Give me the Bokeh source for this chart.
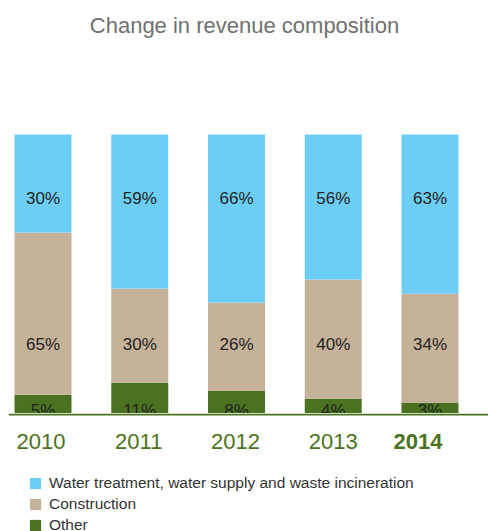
from bokeh.plotting import figure
from bokeh.models import Range1d, Label, Span, ColumnDataSource
from bokeh.layouts import column
from bokeh.core.properties import value
from bokeh.embed import file_html
from bokeh.resources import INLINE

# ---- data ----
years = ["2010", "2011", "2012", "2013", "2014"]
series = ["Other", "Construction", "Water treatment, water supply and waste incineration"]
# printed share labels (%)
other_lbl = [5, 11, 8, 4, 3]
constr_lbl = [65, 30, 26, 40, 34]
water_lbl = [30, 59, 66, 56, 63]
# segment heights as drawn in the picture (% of bar)
other_h = [6.7, 11.0, 8.1, 5.3, 3.8]
constr_h = [58.2, 33.8, 31.7, 42.7, 39.1]
water_h = [35.1, 55.2, 60.2, 52.0, 57.1]

colors = ["#4B7220", "#C4B299", "#6DCEF5"]
GREEN = "#4B7220"
FONT = "Liberation Sans"

xs = list(range(len(years)))
src = ColumnDataSource(dict(x=xs, Other=other_h, Construction=constr_h, Water=water_h))

xr = Range1d(-0.3566, 4.6047)

# ---- top figure: title + bars ----
pa = figure(width=488, height=413, output_backend="svg", toolbar_location=None,
            x_range=xr, y_range=Range1d(0, 148.03),
            x_axis_location=None, y_axis_location=None,
            min_border_left=8, min_border_right=0, min_border_top=0, min_border_bottom=0)
pa.grid.visible = False
pa.outline_line_color = None

rs = pa.vbar_stack(["Other", "Construction", "Water"], x="x", width=0.589,
                   color=colors, line_color=None, source=src)

lbl_font = "17px"
for vals, yy in ((water_lbl, 76.9), (constr_lbl, 24.6), (other_lbl, 1.2)):
    pa.text(x=xs, y=[yy] * len(xs), text=[f"{v}%" for v in vals],
            text_align="center", text_baseline="alphabetic", text_font=value(FONT),
            text_font_size=lbl_font, text_color="#222222")

pa.add_layout(Label(x=236, y=388, x_units="screen", y_units="screen",
                    text="Change in revenue composition", text_align="center",
                    text_baseline="alphabetic", text_font=FONT, text_font_size="22px",
                    text_color="#707070"))

# ---- bottom figure: baseline, years, legend ----
pb = figure(width=488, height=118, output_backend="svg", toolbar_location=None,
            x_range=xr, y_range=Range1d(118, 0),
            x_axis_location=None, y_axis_location=None,
            min_border_left=8, min_border_right=0, min_border_top=0, min_border_bottom=0)
pb.grid.visible = False
pb.outline_line_color = None

pb.add_layout(Span(location=1, dimension="width", line_color=GREEN, line_width=2))

offsets = [-2, -1, -1, 0, -12]
for i, yr in enumerate(years):
    pb.text(x=[xs[i]], y=[28], text=[yr], x_offset=offsets[i],
            text_align="center", text_baseline="alphabetic", text_font=value(FONT),
            text_font_size="22px", text_color=GREEN,
            text_font_style="bold" if i == len(years) - 1 else "normal")

# legend proxies (zero-height bars, only their legend swatches show)
for k in (2, 1, 0):
    pb.vbar(x=[0], top=[0], bottom=[0], width=0.01, color=colors[k], line_color=None,
            legend_label=series[k])

leg = pb.legend[0]
leg.location = (20, -4)
leg.orientation = "vertical"
leg.glyph_width = 14
leg.glyph_height = 14
leg.label_height = 21
leg.spacing = 0
leg.label_standoff = 7
leg.padding = 0
leg.margin = 0
leg.border_line_color = None
leg.background_fill_alpha = 0
leg.label_text_font = FONT
leg.label_text_font_size = "15.5px"
leg.label_text_color = "#333333"

layout = column(pa, pb, spacing=0)
open("out.html", "w").write(file_html(layout, INLINE))
